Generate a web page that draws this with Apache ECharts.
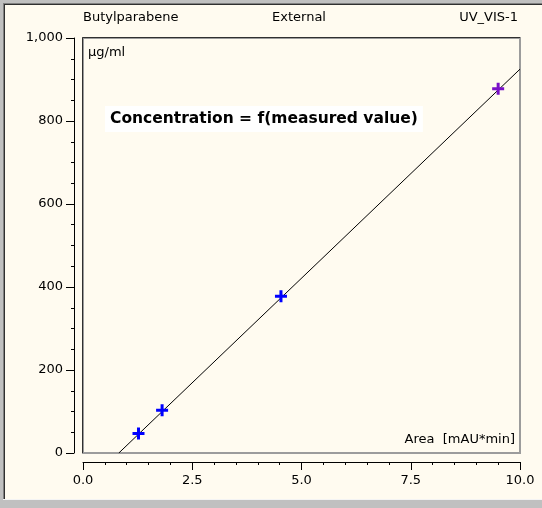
<!DOCTYPE html>
<html><head><meta charset="utf-8">
<script src="https://cdn.jsdelivr.net/npm/echarts@6/dist/echarts.min.js"></script>
<style>html,body{margin:0;padding:0;background:#c0c0c0;overflow:hidden}#c{width:542px;height:508px}</style>
</head><body><div id="c"></div>
<script>
// ---- data ----
const areaX = [1.27, 1.81, 4.53, 9.50];          // Area [mAU*min]
const concY = [47, 103, 378, 878];               // µg/ml
const pointColors = ['#0000ff', '#0000ff', '#0000ff', '#7a10c8'];
const fitLineX = [0.82, 10];
const fitLineY = [0, 925];
const xMin = 0, xMax = 10, xStep = 2.5;
const yMin = 0, yMax = 1000, yStep = 200;
const headerTexts = ['Butylparabene', 'External', 'UV_VIS-1'];
const unitText = 'µg/ml';
const xAxisText = 'Area  [mAU*min]';
const formulaText = 'Concentration = f(measured value)';

// ---- layout ----
const W = 542, H = 508;
const G = {left: 83, right: 22, top: 38, bottom: 55};
const gx0 = G.left, gx1 = W - G.right, gy0 = G.top, gy1 = H - G.bottom;
const cream = '#fffbf0', frameGray = '#c0c0c0';
const font = 'DejaVu Sans';

const chart = echarts.init(document.getElementById('c'), null, {renderer: 'canvas'});

const plusPath = 'path://M4.5,0H7.5V4.5H12V7.5H7.5V12H4.5V7.5H0V4.5H4.5Z';

function fmtThousands(v) {
  return String(v).replace(/\B(?=(\d{3})+(?!\d))/g, ',');
}

const axisCommon = {
  type: 'value',
  offset: 9,
  axisLine: {show: true, onZero: false, lineStyle: {color: '#000', width: 1, opacity: 1}},
  axisTick: {show: true, inside: false, length: 8, lineStyle: {color: '#000', width: 1, opacity: 1}},
  splitLine: {show: false}
};

const option = {
  animation: false,
  backgroundColor: cream,
  grid: {
    left: G.left, right: G.right, top: G.top, bottom: G.bottom,
    show: true, borderColor: '#9c9c9c', borderWidth: 2, backgroundColor: 'transparent'
  },
  xAxis: Object.assign({}, axisCommon, {
    min: xMin, max: xMax, interval: xStep,
    minorTick: {show: true, splitNumber: 5, length: 3, lineStyle: {color: '#000', width: 1}},
    axisLabel: {
      margin: 12, color: '#000', fontFamily: font, fontSize: 13,
      formatter: v => v.toFixed(1)
    }
  }),
  yAxis: Object.assign({}, axisCommon, {
    min: yMin, max: yMax, interval: yStep,
    minorTick: {show: true, splitNumber: 4, length: 3, lineStyle: {color: '#000', width: 1}},
    axisLabel: {
      margin: 11, color: '#000', fontFamily: font, fontSize: 13,
      formatter: v => fmtThousands(v)
    }
  }),
  series: [
    {
      type: 'line',
      data: fitLineX.map((x, i) => [x, fitLineY[i]]),
      symbol: 'none',
      lineStyle: {color: '#000', width: 1},
      z: 2
    },
    {
      type: 'scatter',
      data: areaX.map((x, i) => ({value: [x, concY[i]], itemStyle: {color: pointColors[i], opacity: 1}})),
      symbol: plusPath,
      symbolSize: 12,
      itemStyle: {opacity: 1},
      z: 3
    }
  ],
  graphic: [
    // outer window frame
    {type: 'rect', shape: {x: 0, y: 0, width: W, height: 3}, style: {fill: frameGray}, silent: true},
    {type: 'rect', shape: {x: 0, y: 0, width: 3, height: H}, style: {fill: frameGray}, silent: true},
    {type: 'rect', shape: {x: 0, y: 500, width: W, height: H - 500}, style: {fill: frameGray}, silent: true},
    {type: 'rect', shape: {x: 3, y: 3, width: W - 3, height: 1}, style: {fill: '#808080'}, silent: true},
    {type: 'rect', shape: {x: 3, y: 3, width: 1, height: 497}, style: {fill: '#808080'}, silent: true},
    {type: 'rect', shape: {x: 4, y: 4, width: W - 4, height: 1}, style: {fill: '#303030'}, silent: true},
    {type: 'rect', shape: {x: 4, y: 4, width: 1, height: 495}, style: {fill: '#303030'}, silent: true},
    {type: 'rect', shape: {x: 3, y: 499, width: W - 3, height: 1}, style: {fill: '#f4f4f4'}, silent: true},
    // darker top/left edges of the plot box
    {type: 'line', shape: {x1: gx0 - 0.5, y1: gy0 - 0.5, x2: gx1, y2: gy0 - 0.5}, style: {stroke: '#303030', lineWidth: 1}, silent: true},
    {type: 'line', shape: {x1: gx0 - 0.5, y1: gy0 - 0.5, x2: gx0 - 0.5, y2: gy1}, style: {stroke: '#303030', lineWidth: 1}, silent: true},
    // header texts
    {type: 'text', x: gx0, y: 18, style: {text: headerTexts[0], fill: '#000', font: '13px "' + font + '"', verticalAlign: 'middle'}},
    {type: 'text', x: 299, y: 18, style: {text: headerTexts[1], fill: '#000', font: '13px "' + font + '"', align: 'center', verticalAlign: 'middle'}},
    {type: 'text', x: gx1 - 2, y: 18, style: {text: headerTexts[2], fill: '#000', font: '13px "' + font + '"', align: 'right', verticalAlign: 'middle'}},
    // inside plot texts
    {type: 'text', x: gx0 + 5, y: 53, style: {text: unitText, fill: '#000', font: '13px "' + font + '"', verticalAlign: 'middle'}},
    {type: 'text', x: gx1 - 5, y: 440, style: {text: xAxisText, fill: '#000', font: '13px "' + font + '"', align: 'right', verticalAlign: 'middle'}},
    {type: 'text', x: 105, y: 119, style: {
      text: formulaText, fill: '#000', font: 'bold 15.5px "' + font + '"', verticalAlign: 'middle',
      backgroundColor: '#ffffff', padding: [5, 5, 5, 5]
    }}
  ]
};
chart.setOption(option);
</script>
</body></html>
